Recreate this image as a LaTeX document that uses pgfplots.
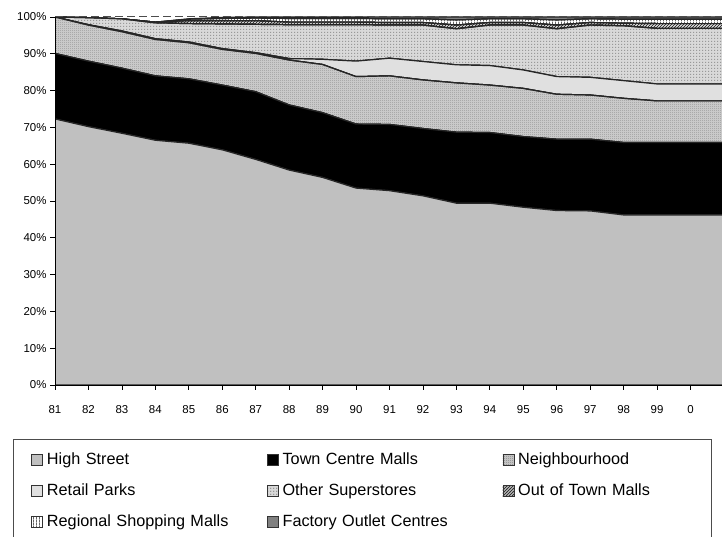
\documentclass[border=0pt]{standalone}
\usepackage{fontspec}
\setmainfont{Liberation Sans}
\usepackage{pgfplots}
\usepackage{pgfplotstable}
\pgfplotsset{compat=1.18}
\usetikzlibrary{patterns}

\pgfdeclarepatternformonly{checker}{\pgfqpoint{0bp}{0bp}}{\pgfqpoint{2bp}{2bp}}{\pgfqpoint{2bp}{2bp}}{%
  \pgfpathrectangle{\pgfqpoint{0bp}{0bp}}{\pgfqpoint{1bp}{1bp}}%
  \pgfpathrectangle{\pgfqpoint{1bp}{1bp}}{\pgfqpoint{1bp}{1bp}}%
  \pgfusepath{fill}}
\pgfdeclarepatternformonly{finedots}{\pgfqpoint{0bp}{0bp}}{\pgfqpoint{3bp}{3bp}}{\pgfqpoint{3bp}{3bp}}{%
  \pgfpathrectangle{\pgfqpoint{0bp}{0bp}}{\pgfqpoint{1.5bp}{1.5bp}}%
  \pgfusepath{fill}}
\pgfdeclarepatternformonly{vstripes}{\pgfqpoint{0bp}{0bp}}{\pgfqpoint{3bp}{3bp}}{\pgfqpoint{3bp}{3bp}}{%
  \pgfpathrectangle{\pgfqpoint{0bp}{0bp}}{\pgfqpoint{1.2bp}{3bp}}%
  \pgfusepath{fill}}
\pgfdeclarepatternformonly{diaglines}{\pgfqpoint{-1bp}{-1bp}}{\pgfqpoint{4bp}{4bp}}{\pgfqpoint{3bp}{3bp}}{%
  \pgfsetlinewidth{0.9bp}%
  \pgfpathmoveto{\pgfqpoint{0bp}{0bp}}\pgfpathlineto{\pgfqpoint{3.1bp}{3.1bp}}%
  \pgfusepath{stroke}}

\definecolor{hs}{HTML}{C0C0C0}
\definecolor{rp}{HTML}{E0E0E0}
\definecolor{foc}{HTML}{808080}

\tikzset{
  sHS/.style={fill=hs},
  sTCM/.style={fill=black},
  sNB/.style={fill=black!18, postaction={pattern=checker, pattern color=black!42}},
  sRP/.style={fill=rp},
  sOS/.style={fill=black!15, postaction={pattern=finedots, pattern color=black!40}},
  sOOT/.style={fill=white, postaction={pattern=diaglines, pattern color=black!80}},
  sREG/.style={fill=white, postaction={pattern=vstripes, pattern color=black!60}},
  sFOC/.style={fill=foc},
}
\pgfplotsset{
  limg/.style={legend image code/.code={%
    \path[#1, draw=black!80, line width=0.6bp] (0bp,-5bp) rectangle (11bp,6bp);}},
}

\pgfplotstableread{
x HS TCM NB RP OS OOT REG FOC
0  72.3 17.8 9.9  0   0    0   0   0
1  70.2 17.8 9.8  0.1 1.9  0   0   0
2  68.4 17.7 9.9  0.2 3.3  0   0   0
3  66.5 17.5 9.9  0.2 4.3  0.2 0   0
4  65.7 17.5 9.8  0.2 5.0  0.8 0.4 0.1
5  63.9 17.6 9.7  0.2 6.7  0.9 0.6 0.3
6  61.3 18.4 10.4 0.2 7.7  1.0 0.7 0.3
7  58.4 17.7 12.2 0.4 9.2  0.7 1.0 0.4
8  56.4 17.6 13.1 1.4 9.4  0.7 1.0 0.4
9  53.5 17.4 12.9 4.2 9.9  0.7 1.0 0.4
10 52.8 18.0 13.2 4.8 9.0  0.7 1.0 0.5
11 51.4 18.3 13.2 5.0 9.9  0.7 1.0 0.5
12 49.4 19.3 13.4 4.9 9.8  1.0 1.4 0.8
13 49.4 19.2 12.9 5.3 11.0 0.7 1.0 0.5
14 48.3 19.2 13.1 5.0 12.2 0.7 1.0 0.5
15 47.4 19.4 12.2 4.8 13.0 1.0 1.4 0.8
16 47.3 19.5 12.0 4.8 14.2 0.7 1.0 0.5
17 46.2 19.7 12.0 4.8 14.9 0.7 1.1 0.6
18 46.2 19.7 11.3 4.6 15.1 1.3 1.2 0.6
19 46.2 19.7 11.3 4.6 15.1 1.3 1.2 0.6
20 46.2 19.7 11.3 4.6 15.1 1.3 1.2 0.6
}\datatable

\begin{document}
\begin{tikzpicture}[x=1bp,y=1bp]
\useasboundingbox (0,0) rectangle (722,537);
\begin{axis}[
  at={(55bp,152bp)}, anchor=south west,
  scale only axis, width=669bp, height=368bp,
  xmin=0, xmax=20, ymin=0, ymax=100,
  axis x line*=bottom, axis y line*=left,
  axis line style={black, line width=0.9bp},
  xtick={0,...,20},
  xticklabels={81,82,83,84,85,86,87,88,89,90,91,92,93,94,95,96,97,98,99,0,{}},
  ytick={0,10,...,100},
  yticklabels={0\%,10\%,20\%,30\%,40\%,50\%,60\%,70\%,80\%,90\%,100\%},
  tick align=outside, major tick length=5bp,
  tick style={black, line width=0.8bp},
  ticklabel style={font=\fontsize{11.5}{13}\selectfont},
  xticklabel style={yshift=-12bp},
  stack plots=y,
  area style,
  every axis plot/.append style={draw=black!85, line width=1.2bp},
  legend columns=3,
  legend cell align=left,
  legend style={
    at={(-0.0628,-0.1467)}, anchor=north west,
    draw=black!70, line width=0.8bp,
    inner xsep=18bp, inner ysep=13bp,
    font=\fontsize{16.3}{19}\selectfont,
    row sep=15bp,
    nodes={inner sep=0pt, text height=12bp, text depth=4bp, text width=220bp, align=left},
    /tikz/every odd column/.append style={column sep=4bp},
    /tikz/column 6/.append style={nodes={text width=175bp}},
  },
]
\draw[black!70, line width=1bp, dash pattern=on 8bp off 4bp] (axis cs:0,100) -- (axis cs:20,100);
\addplot[sHS, limg={sHS}] table[x=x, y=HS] {\datatable} \closedcycle;
\addlegendentry{High Street}
\addplot[sTCM, limg={sTCM}] table[x=x, y=TCM] {\datatable} \closedcycle;
\addlegendentry{Town Centre Malls}
\addplot[sNB, limg={sNB}] table[x=x, y=NB] {\datatable} \closedcycle;
\addlegendentry{Neighbourhood}
\addplot[sRP, limg={sRP}] table[x=x, y=RP] {\datatable} \closedcycle;
\addlegendentry{Retail Parks}
\addplot[sOS, limg={sOS}] table[x=x, y=OS] {\datatable} \closedcycle;
\addlegendentry{Other Superstores}
\addplot[sOOT, limg={sOOT}] table[x=x, y=OOT] {\datatable} \closedcycle;
\addlegendentry{Out of Town Malls}
\addplot[sREG, limg={sREG}] table[x=x, y=REG] {\datatable} \closedcycle;
\addlegendentry{Regional Shopping Malls}
\addplot[sFOC, limg={sFOC}] table[x=x, y=FOC] {\datatable} \closedcycle;
\addlegendentry{Factory Outlet Centres}
\end{axis}
\end{tikzpicture}
\end{document}
